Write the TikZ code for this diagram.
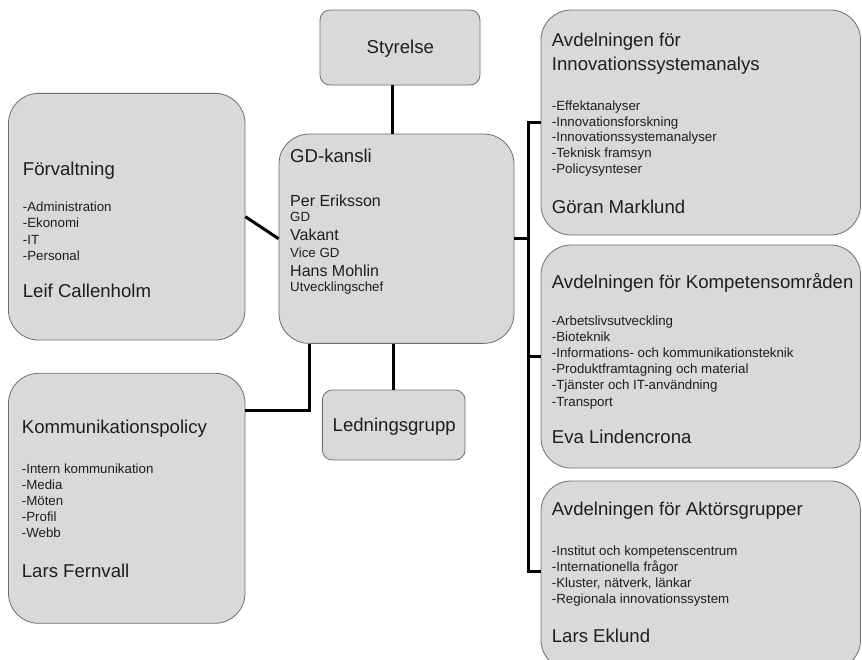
\documentclass[tikz,border=0pt]{standalone}
\usepackage{fontspec}
\setmainfont{Liberation Sans}
\definecolor{boxfill}{HTML}{D9D9D9}
\definecolor{boxline}{HTML}{6E6E6E}
\definecolor{txt}{HTML}{1E1E1E}
\tikzset{
  orgbox/.style={draw=boxline, fill=boxfill, line width=0.8pt, inner sep=0pt, rounded corners=30pt},
  smallbox/.style={orgbox, rounded corners=10pt},
  conn/.style={draw=black, line width=3pt},
  ht/.style={anchor=base west, inner sep=0pt, text=txt, font=\fontsize{18.6}{22}\selectfont},
  mt/.style={anchor=base west, inner sep=0pt, text=txt, font=\fontsize{16}{19}\selectfont},
  st/.style={anchor=base west, inner sep=0pt, text=txt, font=\fontsize{13.3}{16}\selectfont},
  ct/.style={anchor=base, inner sep=0pt, text=txt, font=\fontsize{18.6}{22}\selectfont},
}
\begin{document}
\begin{tikzpicture}[x=1pt,y=-1pt]
\useasboundingbox (0,0) rectangle (862,659);
% boxes
\node[smallbox, minimum width=160pt, minimum height=75pt] (styr) at (400,47.5) {};
\node[orgbox, minimum width=235pt, minimum height=209.3pt] (gd) at (396.5,238.7) {};
\node[orgbox, minimum width=236.5pt, minimum height=246.7pt] (forv) at (126.75,216.7) {};
\node[orgbox, minimum width=236.5pt, minimum height=250pt] (komm) at (126.75,498.3) {};
\node[smallbox, minimum width=142.7pt, minimum height=70pt] (led) at (393.7,425) {};
\node[orgbox, minimum width=319.5pt, minimum height=225pt] (a1) at (700.75,122.5) {};
\node[orgbox, minimum width=319.5pt, minimum height=223pt] (a2) at (700.75,356.5) {};
\node[orgbox, minimum width=319.5pt, minimum height=189pt] (a3) at (700.75,575.5) {};
% connectors
\draw[conn] (392.7,0 |- styr.south) -- (392.7,0 |- gd.north);
\draw[conn] (forv.east) -- (gd.west);
\draw[conn] (309.3,0 |- gd.south) |- (komm.east |- 0,410);
\draw[conn] (393.3,0 |- gd.south) -- (393.3,0 |- led.north);
\draw[conn] (gd.east) -- (528.3,0 |- gd.east);
\draw[conn] (a1.west |- 0,122.3) -- (528.3,122.3) -- (528.3,571.7) -- (a3.west |- 0,571.7);
\draw[conn] (528.3,0 |- a2.west) -- (a2.west);
% Styrelse / Ledningsgrupp
\node[ct] (styrt) at (400.3,53.3) {Styrelse};
\node[ct] (ledt) at (394.2,431.7) {Ledningsgrupp};
% GD-kansli
\node[ht] (g1) at (290,162.3) {GD-kansli};
\node[mt] (g2) at (290,206) {Per Eriksson};
\node[st] (g3) at (290,221.7) {GD};
\node[mt] (g4) at (290,240.7) {Vakant};
\node[st] (g5) at (290,257) {Vice GD};
\node[mt] (g6) at (290,276) {Hans Mohlin};
\node[st] (g7) at (290,291.7) {Utvecklingschef};
% Forvaltning
\node[ht] (f1) at (22.7,175) {Förvaltning};
\node[st] (f2) at (22.7,211.7) {-Administration};
\node[st] (f3) at (22.7,227.9) {-Ekonomi};
\node[st] (f4) at (22.7,244.1) {-IT};
\node[st] (f5) at (22.7,260.3) {-Personal};
\node[ht] (f6) at (22.7,297.3) {Leif Callenholm};
% Kommunikationspolicy
\node[ht] (k1) at (21.7,433.3) {Kommunikationspolicy};
\node[st] (k2) at (21.7,473.3) {-Intern kommunikation};
\node[st] (k3) at (21.7,489.3) {-Media};
\node[st] (k4) at (21.7,505.5) {-Möten};
\node[st] (k5) at (21.7,521.7) {-Profil};
\node[st] (k6) at (21.7,537.7) {-Webb};
\node[ht] (k7) at (21.7,577.3) {Lars Fernvall};
% Avdelning 1
\node[ht] (p1) at (551.7,46.7) {Avdelningen för};
\node[ht] (p2) at (551.7,70.7) {Innovationssystemanalys};
\node[st] (p3) at (551.7,110) {-Effektanalyser};
\node[st] (p4) at (551.7,126) {-Innovationsforskning};
\node[st] (p5) at (551.7,141.7) {-Innovationssystemanalyser};
\node[st] (p6) at (551.7,157.5) {-Teknisk framsyn};
\node[st] (p7) at (551.7,173.3) {-Policysynteser};
\node[ht] (p8) at (551.7,213.3) {Göran Marklund};
% Avdelning 2
\node[ht] (q1) at (551.7,288.3) {Avdelningen för Kompetensområden};
\node[st] (q2) at (551.7,325) {-Arbetslivsutveckling};
\node[st] (q3) at (551.7,341.2) {-Bioteknik};
\node[st] (q4) at (551.7,357.4) {-Informations- och kommunikationsteknik};
\node[st] (q5) at (551.7,373.6) {-Produktframtagning och material};
\node[st] (q6) at (551.7,389.8) {-Tjänster och IT-användning};
\node[st] (q7) at (551.7,406) {-Transport};
\node[ht] (q8) at (551.7,443.3) {Eva Lindencrona};
% Avdelning 3
\node[ht] (r1) at (551.7,515) {Avdelningen för Aktörsgrupper};
\node[st] (r2) at (551.7,555) {-Institut och kompetenscentrum};
\node[st] (r3) at (551.7,571.2) {-Internationella frågor};
\node[st] (r4) at (551.7,587.4) {-Kluster, nätverk, länkar};
\node[st] (r5) at (551.7,603.5) {-Regionala innovationssystem};
\node[ht] (r6) at (551.7,642.7) {Lars Eklund};
\end{tikzpicture}
\end{document}
